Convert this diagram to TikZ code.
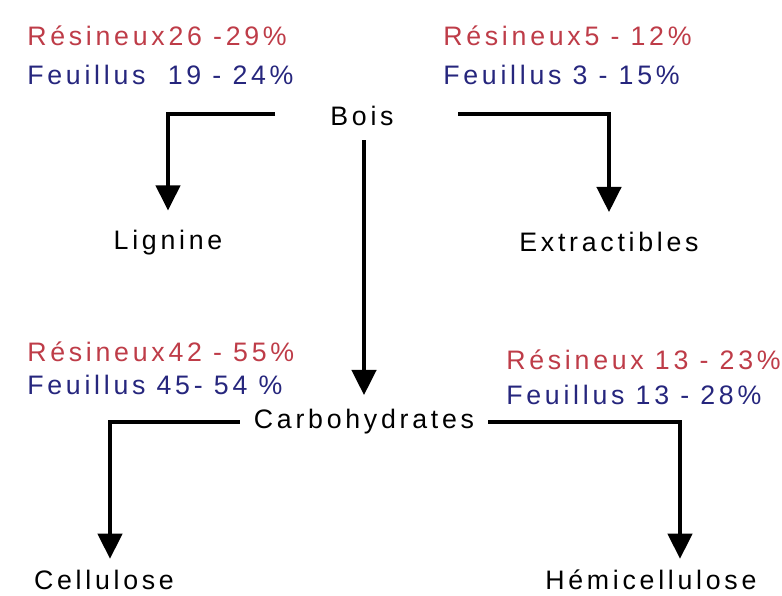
\documentclass[tikz,border=0pt]{standalone}
\usepackage{fontspec}
\setmainfont{Liberation Sans}[LetterSpace=14]
\usetikzlibrary{arrows.meta}
\definecolor{resrouge}{RGB}{190,60,72}
\definecolor{feubleu}{RGB}{38,38,125}
\tikzset{
  txt/.style={inner sep=0pt, font=\fontsize{19}{22}\selectfont},
  pct/.style={txt, anchor=west},
  arr/.style={line width=3.5pt, -{Triangle[width=17pt,length=18pt]}}
}
\begin{document}
\begin{tikzpicture}[x=0.025cm, y=-0.025cm]
\useasboundingbox (0,0) rectangle (782,595) ;

\node[txt] (bois) at (362,116) {Bois} ;
\node[txt] (lignine) at (168,243) {Lignine} ;
\node[txt] (extr) at (609,242) {Extractibles} ;
\node[txt] (carbo) at (364,422) {Carbohydrates} ;
\node[txt] (cell) at (104,580) {Cellulose} ;
\node[txt, anchor=west] (hemi) at (545,580) {Hémicellulose} ;

\node[pct, resrouge] (resL) at (27,36) {Résineux26 -29\%} ;
\node[pct, feubleu] (feuL) at (27,75) {Feuillus\ \ 19 - 24\%} ;
\node[pct, resrouge] (resE) at (443,36) {Résineux5 - 12\%} ;
\node[pct, feubleu] (feuE) at (443,75) {Feuillus 3 - 15\%} ;
\node[pct, resrouge] (resC) at (27,352) {Résineux42 - 55\%} ;
\node[pct, feubleu] (feuC) at (27,385) {Feuillus 45- 54 \%} ;
\node[pct, resrouge] (resH) at (506,360) {Résineux 13 - 23\%} ;
\node[pct, feubleu] (feuH) at (506,395) {Feuillus 13 - 28\%} ;

\coordinate (boisG) at (275,114) ;
\coordinate (boisD) at (458,114) ;
\coordinate (celH) at (110,580) ;
\coordinate (hemH) at (680,580) ;

\draw[arr, shorten >=14pt] (boisG) -| (lignine.north) ;
\draw[arr, shorten >=14pt] (boisD) -| (extr.north) ;
\draw[arr, shorten <=10pt, shorten >=10pt] (bois.south -| carbo.north) -- (carbo.north) ;
\draw[arr, shorten <=10pt, shorten >=15pt] (carbo.west) -| (celH) ;
\draw[arr, shorten <=10pt, shorten >=15pt] (carbo.east) -| (hemH) ;
\end{tikzpicture}
\end{document}
